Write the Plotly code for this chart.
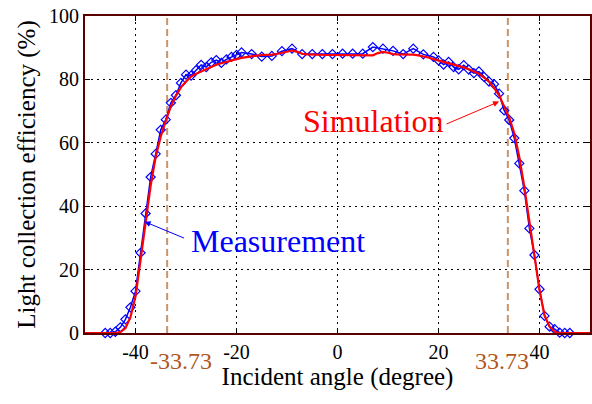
import plotly.graph_objects as go

# Measurement data (incident angle in degrees, efficiency in %)
meas_angle = list(range(-46, -19)) + list(range(-19, 20, 2)) + list(range(20, 47))
meas_eff = [
    0.0, 0.0, 0.4, 1.8, 4.3, 8.1, 13.2, 25.3, 37.7, 49.2, 56.5, 64.1, 67.3,
    72.6, 75.0, 78.9, 81.5, 81.2, 82.9, 84.6, 83.9, 85.4, 86.1, 85.2, 86.3, 87.1, 87.7,
    # -19 .. 19 step 2
    88.5, 88.0, 87.2, 87.4, 88.9, 89.7, 88.0, 88.0, 88.0, 88.0,
    88.1, 88.1, 88.1, 90.2, 89.7, 89.0, 88.0, 89.7, 87.9, 87.1,
    # 20 .. 46
    86.0, 84.7, 85.5, 83.9, 83.2, 84.5, 83.1, 82.0, 82.5, 80.8, 79.3, 78.5, 75.5,
    70.2, 67.2, 61.5, 53.5, 44.9, 33.0, 24.6, 13.8, 5.4, 2.0, 1.2, 0.1, 0.0, 0.0,
]

# Simulation curve
sim_angle = [-50, -44] + list(range(-43, 44)) + [44, 50]
sim_eff = [
    0.0, 0.0,
    0.3, 1.5, 5.0, 11.5, 23.0, 35.5, 46.5, 55.5, 62.0, 67.0, 71.5, 74.8, 77.5,
    79.3, 80.9, 81.8, 82.5, 83.2, 84.0, 84.6, 85.1, 85.6, 86.0, 86.4, 86.8, 87.1,
    87.3, 87.5, 87.7, 87.7, 87.8, 88.0, 88.3, 88.8, 89.1, 88.7, 88.1, 87.9, 87.8,
    87.8, 87.7, 87.7, 87.7, 87.7, 87.7, 87.7, 87.7, 87.7, 87.6, 87.5, 87.6, 88.3,
    88.7, 88.4, 88.0, 87.9, 87.9, 87.8, 87.8, 87.6, 87.3, 86.9, 86.4, 86.0, 85.6,
    85.1, 84.7, 84.3, 83.8, 83.2, 82.6, 81.8, 80.6, 79.3, 77.3, 75.0, 71.5, 68.0,
    63.0, 55.5, 46.0, 35.5, 24.5, 13.5, 5.5, 2.0, 0.4,
    0.0, 0.0,
]

critical_angles = [-33.73, 33.73]
critical_labels = ["-33.73", "33.73"]

x_ticks = [-40, -20, 0, 20, 40]
x_ticktext = ["-40", "-20", "0", "20", "40"]
y_ticks = [0, 20, 40, 60, 80, 100]
y_ticktext = ["0", "20", "40", "60", "80", "100"]

FONT = "'Liberation Serif', 'Times New Roman', Times, serif"
AXIS_COLOR = "#5a0000"
BROWN_LINE = "#c8946a"
BROWN_TEXT = "#b0561e"

fig = go.Figure()

fig.add_trace(go.Scatter(
    x=meas_angle, y=meas_eff, mode="lines+markers",
    line=dict(color="#0000ff", width=1.5),
    marker=dict(symbol="diamond-open", size=7, color="#0000ff", line=dict(width=1.2)),
    cliponaxis=False, showlegend=False,
))
fig.add_trace(go.Scatter(
    x=sim_angle, y=sim_eff, mode="lines",
    line=dict(color="#ff0000", width=2.2),
    cliponaxis=False, showlegend=False,
))

for xa in critical_angles:
    fig.add_shape(type="line", xref="x", yref="y", x0=xa, x1=xa, y0=0, y1=100,
                  line=dict(color=BROWN_LINE, width=2, dash="7px,4px"), layer="below")

label_pos = [-30.9, 32.5]
for xp, lab in zip(label_pos, critical_labels):
    fig.add_annotation(x=xp, y=-0.088, xref="x", yref="paper",
                       text=lab, showarrow=False, yanchor="middle",
                       font=dict(family=FONT, size=24, color=BROWN_TEXT))

# Text labels
fig.add_annotation(x=7.0, y=66.9, xref="x", yref="y", text="Simulation", showarrow=False,
                   font=dict(family=FONT, size=32, color="#ff0000"))
fig.add_annotation(x=-11.7, y=29.0, xref="x", yref="y", text="Measurement", showarrow=False,
                   font=dict(family=FONT, size=32, color="#0000ff"))
# Arrows
fig.add_annotation(x=32.0, y=73.0, xref="x", yref="y", text="", showarrow=True,
                   ax=-54, ay=23, arrowhead=2, arrowsize=1.2, arrowwidth=1,
                   arrowcolor="#ff0000")
fig.add_annotation(x=-38.2, y=35.1, xref="x", yref="y", text="", showarrow=True,
                   ax=41, ay=17, arrowhead=2, arrowsize=1.2, arrowwidth=1,
                   arrowcolor="#0000ff")

axis_common = dict(
    showline=True, linecolor=AXIS_COLOR, linewidth=2, mirror="ticks",
    ticks="inside", ticklen=5, tickcolor="#000000", tickwidth=1,
    showgrid=True, gridcolor="#000000", gridwidth=1.2, griddash="2px,4px",
    zeroline=False,
    tickfont=dict(family=FONT, size=20, color="#000000"),
)

fig.update_layout(
    width=592, height=404,
    margin=dict(l=85, r=0, t=16, b=71),
    paper_bgcolor="white", plot_bgcolor="white",
    font=dict(family=FONT, color="#000000"),
    xaxis=dict(range=[-50, 50], tickvals=x_ticks, ticktext=x_ticktext,
               title=dict(text="Incident angle (degree)", font=dict(family=FONT, size=25),
                          standoff=4),
               **axis_common),
    yaxis=dict(range=[0, 100], tickvals=y_ticks, ticktext=y_ticktext,
               title=dict(text="Light collection efficiency (%)", font=dict(family=FONT, size=25),
                          standoff=6),
               **axis_common),
)

fig.write_html("out.html")
